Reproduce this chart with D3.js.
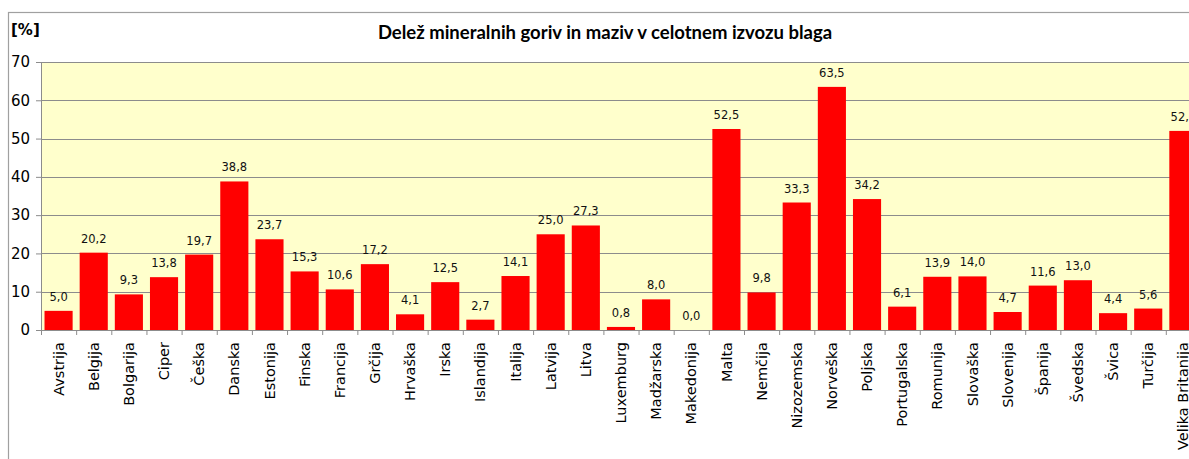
<!DOCTYPE html>
<html>
<head>
<meta charset="utf-8">
<script src="https://cdn.jsdelivr.net/npm/d3@7"></script>
<style>
  body { margin: 0; background: #fff; }
  svg { display: block; }
</style>
</head>
<body>
<svg id="chart" width="1189" height="459"></svg>
<script>
// data
var countries = ["Avstrija", "Belgija", "Bolgarija", "Ciper", "Češka", "Danska", "Estonija",
  "Finska", "Francija", "Grčija", "Hrvaška", "Irska", "Islandija", "Italija", "Latvija",
  "Litva", "Luxemburg", "Madžarska", "Makedonija", "Malta", "Nemčija", "Nizozemska",
  "Norveška", "Poljska", "Portugalska", "Romunija", "Slovaška", "Slovenija", "Španija",
  "Švedska", "Švica", "Turčija", "Velika Britanija"];
var shares = [5.0, 20.2, 9.3, 13.8, 19.7, 38.8, 23.7, 15.3, 10.6, 17.2, 4.1, 12.5, 2.7, 14.1,
  25.0, 27.3, 0.8, 8.0, 0.0, 52.5, 9.8, 33.3, 63.5, 34.2, 6.1, 13.9, 14.0, 4.7, 11.6,
  13.0, 4.4, 5.6, 52.0];
var yTicks = [0, 10, 20, 30, 40, 50, 60, 70];

var title = "Delež mineralnih goriv in maziv v celotnem izvozu blaga";
var font = "'DejaVu Sans', Verdana, sans-serif";

var svg = d3.select("#chart");

// plot area runs past the right edge of the window, like the original
var plotLeft = 41, plotRight = 41 + 33 * 35.15, plotTop = 62, plotBottom = 330;

var x = d3.scaleBand().domain(countries).range([plotLeft, plotRight]).paddingInner(0.2).paddingOuter(0.1);
var y = d3.scaleLinear().domain([0, 70]).range([plotBottom, plotTop]);

// outer chart frame
svg.append("rect")
  .attr("x", 8.5).attr("y", 12.5)
  .attr("width", 1300).attr("height", 600)
  .attr("fill", "none").attr("stroke", "#a0a0a0").attr("stroke-width", 1.2);

// plot background
svg.append("rect")
  .attr("x", plotLeft).attr("y", plotTop)
  .attr("width", plotRight - plotLeft).attr("height", plotBottom - plotTop)
  .attr("fill", "#ffffcc");

// gridlines
svg.append("g").selectAll("line")
  .data(yTicks.filter(function (d) { return d > 0; }))
  .join("line")
  .attr("x1", plotLeft).attr("x2", plotRight)
  .attr("y1", function (d) { return Math.round(y(d)) + 0.5; })
  .attr("y2", function (d) { return Math.round(y(d)) + 0.5; })
  .attr("stroke", "#8c8c8c").attr("stroke-width", 1);

// bars
svg.append("g").selectAll("rect")
  .data(shares)
  .join("rect")
  .attr("x", function (d, i) { return x(countries[i]); })
  .attr("width", x.bandwidth())
  .attr("y", function (d) { return y(d); })
  .attr("height", function (d) { return plotBottom - y(d); })
  .attr("fill", "#ff0000");

// value labels
svg.append("g").selectAll("text")
  .data(shares)
  .join("text")
  .attr("x", function (d, i) { return x(countries[i]) + x.bandwidth() / 2; })
  .attr("y", function (d) { return y(d) - 10; })
  .attr("text-anchor", "middle")
  .attr("font-family", font).attr("font-size", 11.5)
  .attr("fill", "#111")
  .text(function (d) { return d.toFixed(1).replace(".", ","); });

// y axis
var yAxis = svg.append("g")
  .attr("transform", "translate(" + plotLeft + ",0)")
  .call(d3.axisLeft(y).tickValues(yTicks).tickSize(5).tickPadding(6));
yAxis.select(".domain").attr("stroke", "#8c8c8c");
yAxis.selectAll(".tick line").attr("stroke", "#8c8c8c");
yAxis.selectAll("text").attr("font-family", font).attr("font-size", 15).attr("fill", "#000");

// x axis, category names rotated
var xAxis = svg.append("g")
  .attr("transform", "translate(0," + plotBottom + ")")
  .call(d3.axisBottom(x).tickSize(0).tickPadding(0));
xAxis.select(".domain").attr("stroke", "#8c8c8c");
xAxis.selectAll(".tick text")
  .attr("font-family", font).attr("font-size", 14.5).attr("fill", "#000")
  .attr("text-anchor", "end")
  .attr("transform", "translate(0,12) rotate(-90)")
  .attr("dx", 0).attr("dy", "0.35em").attr("x", 0).attr("y", 0);

// ticks at band boundaries
var step = x.step();
svg.append("g").selectAll("line")
  .data(d3.range(countries.length + 1))
  .join("line")
  .attr("x1", function (i) { return plotLeft + i * step + 0.5; })
  .attr("x2", function (i) { return plotLeft + i * step + 0.5; })
  .attr("y1", plotBottom).attr("y2", plotBottom + 5)
  .attr("stroke", "#8c8c8c");

// titles
svg.append("text")
  .attr("x", 605).attr("y", 39)
  .attr("text-anchor", "middle")
  .attr("font-family", "Lato, 'Open Sans', sans-serif").attr("font-weight", "bold")
  .attr("font-size", 18.5)
  .text(title);

svg.append("text")
  .attr("x", 11).attr("y", 35)
  .attr("font-family", font).attr("font-weight", "bold")
  .attr("font-size", 15)
  .text("[%]");
</script>
</body>
</html>
